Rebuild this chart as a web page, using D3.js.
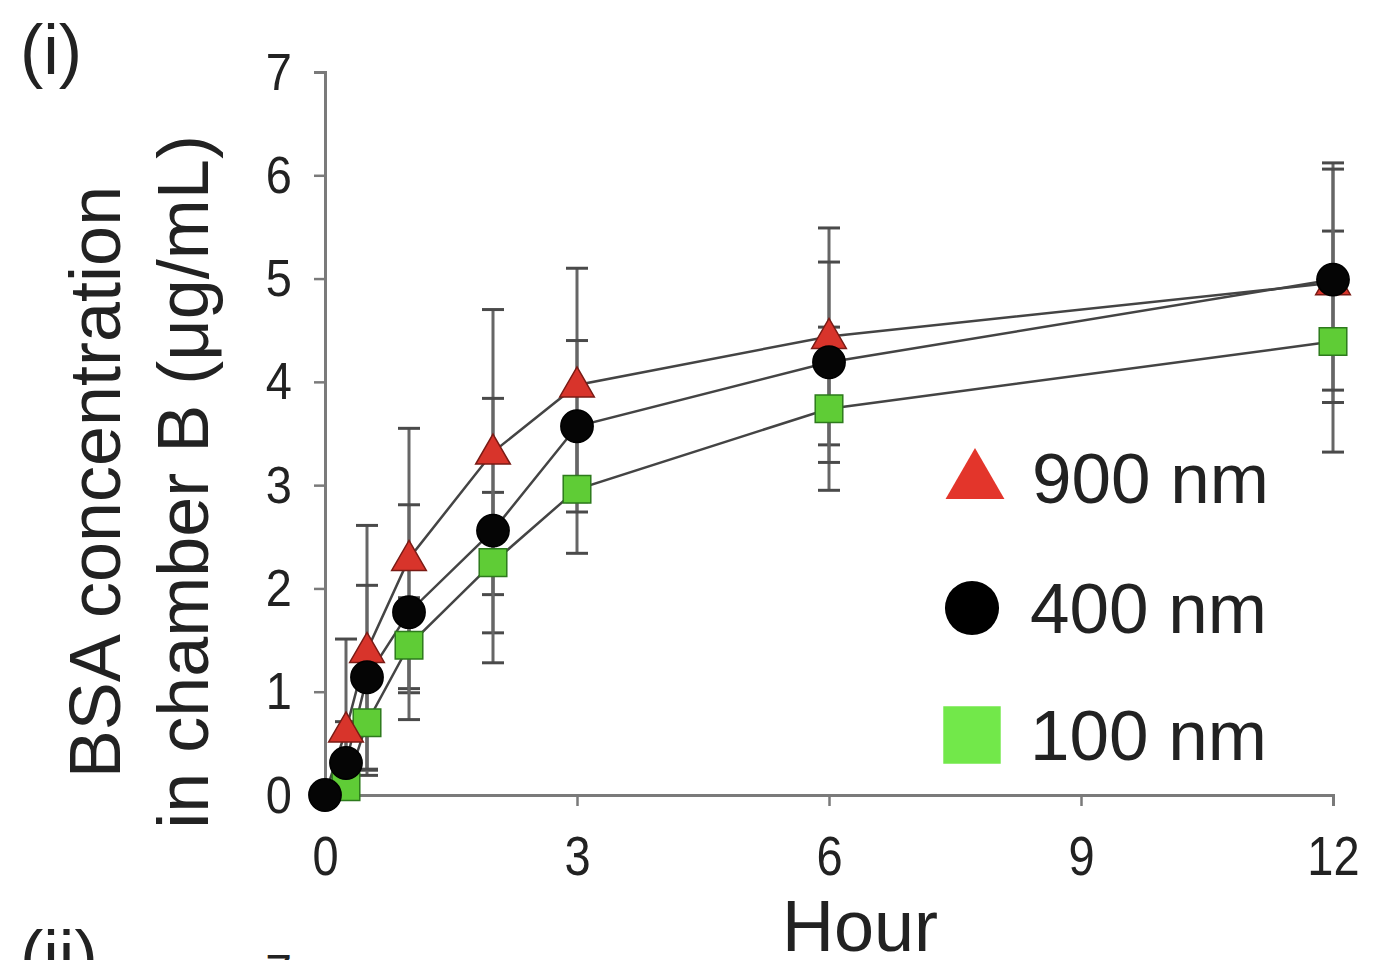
<!DOCTYPE html>
<html>
<head>
<meta charset="utf-8">
<script src="https://cdn.jsdelivr.net/npm/d3@7"></script>
<style>
  html, body { margin: 0; padding: 0; background: #fff; }
  svg { display: block; }
  text { font-family: "Liberation Sans", Arial, sans-serif; fill: #222; }
</style>
</head>
<body>
<svg id="chart" width="1375" height="960"></svg>
<script>
// ---- Data ----
const hours = [0, 0.25, 0.5, 1, 2, 3, 6, 12];
const seriesNames = ["900 nm", "400 nm", "100 nm"];
const mean900 = [0, 0.63, 1.40, 2.29, 3.32, 3.97, 4.44, 4.96];
const err900  = [0, 0.88, 1.21, 1.26, 1.38, 1.13, 1.05, 1.16];
const mean400 = [0, 0.31, 1.14, 1.77, 2.56, 3.57, 4.19, 4.99];
const err400  = [0, 0.40, 0.89, 1.04, 1.28, 0.83, 0.97, 1.07];
const mean100 = [0, 0.08, 0.70, 1.45, 2.25, 2.96, 3.74, 4.39];
const err100  = [0, 0.12, 0.46, 0.46, 0.68, 0.62, 0.79, 1.07];
const xTicks = [0, 3, 6, 9, 12];
const yTicks = [0, 1, 2, 3, 4, 5, 6, 7];

const svg = d3.select("#chart");
const x = d3.scaleLinear().domain([0, 12]).range([325, 1333]);
const y = d3.scaleLinear().domain([0, 7]).range([795, 72]);

const axisColor = "#7a7a7a";

// Panel labels
svg.append("text").attr("x", 20).attr("y", 74).attr("font-size", 70).text("(i)");
svg.append("text").attr("x", 20).attr("y", 980).attr("font-size", 70).text("(ii)");
svg.append("text").attr("x", 292).attr("y", 988).attr("font-size", 48).attr("text-anchor", "end").text("7");

// Axes
const yAxis = d3.axisLeft(y).tickValues(yTicks).tickSize(11).tickPadding(22).tickFormat(d3.format("d"));
const gy = svg.append("g").attr("transform", `translate(${x(0)},0)`).call(yAxis);
const xAxis = d3.axisBottom(x).tickValues(xTicks).tickSize(11).tickPadding(26).tickFormat(d3.format("d"));
const gx = svg.append("g").attr("transform", `translate(0,${y(0)})`).call(xAxis);
[gx, gy].forEach(g => {
  g.select(".domain").attr("stroke", axisColor).attr("stroke-width", 3);
  g.selectAll(".tick line").attr("stroke", axisColor).attr("stroke-width", 2.5);
  g.selectAll(".tick text").attr("font-size", 47).attr("fill", "#222")
    .style("font-family", "'Liberation Sans', Arial, sans-serif");
});
// slightly tall glyphs as in the reference
gy.selectAll(".tick text").attr("dy", null).attr("y", 17 / 1.12).attr("transform", "scale(1,1.12)");
gx.selectAll(".tick text").attr("dy", null).attr("y", 80 / 1.2).attr("transform", "scale(1,1.2)");

// Axis titles
svg.append("text").attr("x", 860).attr("y", 951).attr("text-anchor", "middle")
  .attr("font-size", 72).text("Hour");
svg.append("text").attr("transform", "translate(120,482) rotate(-90)")
  .attr("text-anchor", "middle").attr("font-size", 72).text("BSA concentration");
svg.append("text").attr("transform", "translate(208,482) rotate(-90)")
  .attr("text-anchor", "middle").attr("font-size", 72).text("in chamber B (μg/mL)");

// Series
const series = [
  {name: seriesNames[2], mean: mean100, err: err100, shape: "square"},
  {name: seriesNames[0], mean: mean900, err: err900, shape: "triangle"},
  {name: seriesNames[1], mean: mean400, err: err400, shape: "circle"}
];
const style = {
  triangle: {fill: "#d8342b", stroke: "#7a1a14", sym: d3.symbolTriangle, size: 520},
  circle:   {fill: "#050505", stroke: "#000", sym: d3.symbolCircle, size: 820},
  square:   {fill: "#5fcc36", stroke: "#2d7a1c", sym: d3.symbolSquare, size: 760}
};

const pts = s => hours.map((h, i) => ({h, v: s.mean[i], e: s.err[i]}));

// Error bars
const ebG = svg.append("g");
series.forEach(s => {
  pts(s).forEach(p => {
    if (p.e <= 0) return;
    const lo = Math.max(0, p.v - p.e), hi = p.v + p.e;
    ebG.append("line").attr("x1", x(p.h)).attr("x2", x(p.h))
      .attr("y1", y(lo)).attr("y2", y(hi)).attr("stroke", "#666").attr("stroke-width", 3);
    [hi, lo].forEach(v => {
      if (v === 0) return;
      ebG.append("line").attr("x1", x(p.h) - 11).attr("x2", x(p.h) + 11)
        .attr("y1", y(v)).attr("y2", y(v)).attr("stroke", "#4a4a4a").attr("stroke-width", 3);
    });
  });
});

// Lines
const line = d3.line().x(d => x(d.h)).y(d => y(d.v));
series.forEach(s => {
  svg.append("path").datum(pts(s)).attr("d", line)
    .attr("fill", "none").attr("stroke", "#444").attr("stroke-width", 2.5);
});

// Markers (the 0 h markers of the 900/100 nm series sit hidden behind the 400 nm circle)
series.forEach(s => {
  const st = style[s.shape];
  const sym = d3.symbol().type(st.sym).size(st.size);
  const data = pts(s).filter(d => s.shape === "circle" || d.h > 0);
  svg.append("g").selectAll("path").data(data).join("path")
    .attr("transform", d => `translate(${x(d.h)},${y(d.v) + (s.shape === "triangle" ? 2 : 0)})`)
    .attr("d", sym)
    .attr("fill", st.fill).attr("stroke", st.stroke).attr("stroke-width", 1.5);
});

// Legend
const legend = [
  {name: seriesNames[0], shape: "triangle", ly: 478},
  {name: seriesNames[1], shape: "circle", ly: 608},
  {name: seriesNames[2], shape: "square", ly: 735}
];
legend.forEach(l => {
  const st = style[l.shape];
  const big = l.shape === "triangle" ? 1500 : (l.shape === "circle" ? 2300 : 3300);
  svg.append("path")
    .attr("transform", `translate(${l.shape === "triangle" ? 975 : 972},${l.ly + (l.shape === "triangle" ? 4 : 0)})`)
    .attr("d", d3.symbol().type(st.sym).size(big)())
    .attr("fill", l.shape === "square" ? "#72e84a" : (l.shape === "triangle" ? "#e3352b" : "#000"));
  svg.append("text").attr("x", l.shape === "triangle" ? 1032 : 1030).attr("y", l.ly + 25)
    .attr("font-size", 71).text(l.name);
});
</script>
</body>
</html>
